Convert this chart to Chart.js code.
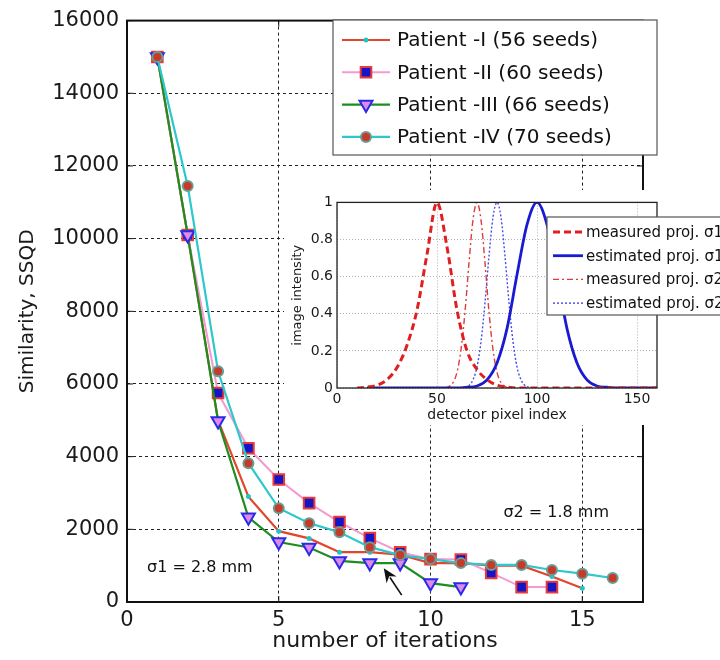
<!DOCTYPE html>
<html>
<head>
<meta charset="utf-8">
<script src="https://cdn.jsdelivr.net/npm/chart.js@4.4.0/dist/chart.umd.min.js"></script>
<style>
body { margin: 0; background: #fff; }
#wrap { position: relative; width: 720px; height: 660px; overflow: hidden; }
#main { position: absolute; left: 0; top: 0; }
#inset { position: absolute; left: 284px; top: 190px; background: #fff; }
</style>
</head>
<body>
<div id="wrap">
  <canvas id="main" width="720" height="660"></canvas>
  <canvas id="inset" width="436" height="235"></canvas>
</div>
<script>
// main plot: similarity vs iterations
const iterations = [1, 2, 3, 4, 5, 6, 7, 8, 9, 10, 11, 12, 13, 14, 15, 16];
const patientI   = [15000, 10100, 5000, 2900, 1950, 1750, 1370, 1370, 1300, 1070, 1070, 1000, 1000, 700, 380];
const patientII  = [15000, 10100, 5750, 4230, 3370, 2720, 2200, 1760, 1370, 1180, 1170, 800, 410, 410];
const patientIII = [15000, 10100, 4980, 2330, 1650, 1500, 1130, 1070, 1070, 520, 410];
const patientIV  = [15000, 11450, 6350, 3820, 2580, 2170, 1920, 1510, 1290, 1180, 1070, 1020, 1020, 880, 780, 660];
const seriesNames = ['Patient -I (56 seeds)', 'Patient -II (60 seeds)', 'Patient -III (66 seeds)', 'Patient -IV (70 seeds)'];
const iterTicks = [0, 5, 10, 15];
const ssqdTicks = [0, 2000, 4000, 6000, 8000, 10000, 12000, 14000, 16000];

// inset: projections
const pixelTicks = [0, 50, 100, 150];
const intensityTicks = [0, 0.2, 0.4, 0.6, 0.8, 1];
const measS1Px  = [10, 15, 20, 25, 30, 35, 40, 45, 50, 55, 60, 65, 70, 75, 80, 85, 90, 160];
const measS1    = [0, 0.005, 0.015, 0.045, 0.11, 0.23, 0.42, 0.72, 1, 0.76, 0.42, 0.2, 0.1, 0.045, 0.015, 0.005, 0, 0];
const estS1Px   = [15, 60, 65, 70, 75, 80, 85, 90, 95, 100, 105, 110, 115, 120, 125, 130, 135, 140, 160];
const estS1     = [0, 0, 0.004, 0.011, 0.044, 0.135, 0.32, 0.61, 0.88, 1, 0.88, 0.61, 0.32, 0.135, 0.044, 0.011, 0.004, 0, 0];
const measS2Px  = [54, 56, 58, 60, 62, 64, 66, 68, 70, 72, 74, 76, 78, 80, 82, 84, 86];
const measS2    = [0, 0.008, 0.029, 0.085, 0.206, 0.41, 0.674, 0.906, 1, 0.906, 0.674, 0.41, 0.206, 0.085, 0.029, 0.008, 0];
const estS2Px   = [62, 64, 66, 68, 70, 72, 74, 76, 78, 80, 82, 84, 86, 88, 90, 92, 94, 96, 98];
const estS2     = [0, 0.004, 0.014, 0.044, 0.114, 0.25, 0.46, 0.71, 0.92, 1, 0.92, 0.71, 0.46, 0.25, 0.114, 0.044, 0.014, 0.004, 0];
const projNames = ['measured proj. σ1', 'estimated proj. σ1', 'measured proj. σ2', 'estimated proj. σ2'];

const FONT = 'DejaVu Sans';

function pts(xs, ys) {
    return ys.map((v, i) => ({x: xs[i], y: v}));
}

function drawMarker(ctx, ds, x, y) {
    const r = ds.pointRadius;
    if (!r) return;
    ctx.save();
    ctx.setLineDash([]);
    ctx.fillStyle = ds.pointBackgroundColor;
    ctx.strokeStyle = ds.pointBorderColor;
    ctx.lineWidth = ds.pointBorderWidth || 0;
    ctx.beginPath();
    if (ds.pointStyle === 'rect') {
        const s = r * Math.SQRT1_2;
        ctx.rect(x - s, y - s, 2 * s, 2 * s);
    } else if (ds.pointStyle === 'triangle') {
        let a = Math.PI;
        ctx.moveTo(x + Math.sin(a) * r, y - Math.cos(a) * r);
        a += Math.PI * 2 / 3;
        ctx.lineTo(x + Math.sin(a) * r, y - Math.cos(a) * r);
        a += Math.PI * 2 / 3;
        ctx.lineTo(x + Math.sin(a) * r, y - Math.cos(a) * r);
        ctx.closePath();
    } else {
        ctx.arc(x, y, r, 0, Math.PI * 2);
    }
    ctx.fill();
    if (ds.pointBorderWidth) ctx.stroke();
    ctx.restore();
}

// legend box drawn at a fixed place, styles taken from datasets
const boxLegend = {
    id: 'boxLegend',
    afterDraw(chart, args, o) {
        const ctx = chart.ctx;
        ctx.save();
        ctx.fillStyle = '#fff';
        ctx.fillRect(o.x, o.y, o.w, o.h);
        ctx.strokeStyle = '#555';
        ctx.lineWidth = 1.2;
        ctx.strokeRect(o.x, o.y, o.w, o.h);
        ctx.font = o.font;
        ctx.textBaseline = 'middle';
        ctx.fillStyle = '#111';
        chart.data.datasets.forEach((ds, i) => {
            const cy = o.y + o.first + o.rowH * i;
            const x0 = o.x + o.lineStart;
            ctx.beginPath();
            ctx.setLineDash(ds.borderDash || []);
            ctx.strokeStyle = ds.borderColor;
            ctx.lineWidth = ds.borderWidth;
            ctx.moveTo(x0, cy);
            ctx.lineTo(x0 + o.lineLen, cy);
            ctx.stroke();
            ctx.setLineDash([]);
            drawMarker(ctx, ds, x0 + o.lineLen / 2, cy);
            ctx.fillStyle = '#111';
            ctx.fillText(ds.label, x0 + o.lineLen + o.gap, cy + 1);
        });
        ctx.restore();
    }
};

// frame, inner tick marks and notes
const framePlugin = {
    id: 'frame',
    afterDatasetsDraw(chart, args, o) {
        const ctx = chart.ctx;
        const a = chart.chartArea;
        const sx = chart.scales.x, sy = chart.scales.y;
        ctx.save();
        ctx.strokeStyle = '#111';
        ctx.lineWidth = o.width;
        ctx.strokeRect(a.left, a.top, a.right - a.left, a.bottom - a.top);
        ctx.lineWidth = 1;
        ctx.beginPath();
        sx.ticks.forEach(t => {
            const px = sx.getPixelForValue(t.value);
            ctx.moveTo(px, a.bottom); ctx.lineTo(px, a.bottom - o.tick);
            ctx.moveTo(px, a.top); ctx.lineTo(px, a.top + o.tick);
        });
        sy.ticks.forEach(t => {
            const py = sy.getPixelForValue(t.value);
            ctx.moveTo(a.left, py); ctx.lineTo(a.left + o.tick, py);
            ctx.moveTo(a.right, py); ctx.lineTo(a.right - o.tick, py);
        });
        ctx.stroke();
        (o.notes || []).forEach(n => {
            ctx.font = n.font;
            ctx.fillStyle = '#111';
            ctx.textBaseline = 'middle';
            ctx.fillText(n.text, sx.getPixelForValue(n.x), sy.getPixelForValue(n.y));
        });
        if (o.arrow) {
            const x1 = sx.getPixelForValue(o.arrow.from[0]), y1 = sy.getPixelForValue(o.arrow.from[1]);
            const x2 = sx.getPixelForValue(o.arrow.to[0]), y2 = sy.getPixelForValue(o.arrow.to[1]);
            const ang = Math.atan2(y2 - y1, x2 - x1);
            const hl = 14, hw = 6;
            ctx.strokeStyle = '#111';
            ctx.lineWidth = 1.6;
            ctx.beginPath();
            ctx.moveTo(x1, y1);
            ctx.lineTo(x2 - Math.cos(ang) * hl * 0.8, y2 - Math.sin(ang) * hl * 0.8);
            ctx.stroke();
            ctx.fillStyle = '#111';
            ctx.beginPath();
            ctx.moveTo(x2, y2);
            ctx.lineTo(x2 - Math.cos(ang) * hl + Math.sin(ang) * hw, y2 - Math.sin(ang) * hl - Math.cos(ang) * hw);
            ctx.lineTo(x2 - Math.cos(ang) * hl * 0.7, y2 - Math.sin(ang) * hl * 0.7);
            ctx.lineTo(x2 - Math.cos(ang) * hl - Math.sin(ang) * hw, y2 - Math.sin(ang) * hl + Math.cos(ang) * hw);
            ctx.closePath();
            ctx.fill();
        }
        ctx.restore();
    }
};

const plain = v => String(v);

const mainChart = new Chart(document.getElementById('main').getContext('2d'), {
    type: 'line',
    data: {
        datasets: [{
            label: seriesNames[0],
            data: pts(iterations, patientI),
            borderColor: '#e2462c', borderWidth: 2.2,
            pointStyle: 'circle', pointRadius: 2.5, pointBorderWidth: 0,
            pointBackgroundColor: '#22c4c4', pointBorderColor: '#22c4c4',
            order: 4
        }, {
            label: seriesNames[1],
            data: pts(iterations, patientII),
            borderColor: '#f59ad0', borderWidth: 2,
            pointStyle: 'rect', pointRadius: 7.5, pointBorderWidth: 2,
            pointBackgroundColor: '#1515c8', pointBorderColor: '#e83a3a',
            order: 3
        }, {
            label: seriesNames[2],
            data: pts(iterations, patientIII),
            borderColor: '#1e8c1e', borderWidth: 2.2,
            pointStyle: 'triangle', pointRotation: 180, pointRadius: 7.5, pointBorderWidth: 2,
            pointBackgroundColor: '#e08ae8', pointBorderColor: '#2a2ae8',
            order: 2
        }, {
            label: seriesNames[3],
            data: pts(iterations, patientIV),
            borderColor: '#2cc8cc', borderWidth: 2.2,
            pointStyle: 'circle', pointRadius: 5, pointBorderWidth: 2,
            pointBackgroundColor: '#c83a28', pointBorderColor: '#6a9c94',
            order: 1
        }]
    },
    options: {
        responsive: false,
        animation: false,
        devicePixelRatio: 1,
        layout: { padding: { left: 0, top: 20, right: 77, bottom: 0 } },
        elements: { line: { tension: 0 } },
        plugins: {
            legend: { display: false },
            tooltip: { enabled: false },
            boxLegend: {
                x: 333, y: 20, w: 324, h: 135, first: 20, rowH: 32.3,
                lineStart: 9, lineLen: 48, gap: 7, font: '20px "' + FONT + '"'
            },
            frame: {
                width: 2, tick: 6,
                notes: [
                    { text: 'σ1 = 2.8 mm', x: 0.66, y: 930, font: '16px "' + FONT + '"' },
                    { text: 'σ2 = 1.8 mm', x: 12.4, y: 2450, font: '16px "' + FONT + '"' }
                ],
                arrow: { from: [9.05, 190], to: [8.46, 930] }
            }
        },
        scales: {
            x: {
                type: 'linear', min: 0, max: 17,
                afterBuildTicks: s => { s.ticks = iterTicks.map(v => ({ value: v })); },
                afterFit: s => { s.height = 58; },
                grid: { color: '#222', lineWidth: 1, drawTicks: false },
                border: { display: false, dash: [3, 3] },
                ticks: { padding: 6, color: '#1a1a1a', font: { family: FONT, size: 21 }, callback: plain },
                title: { display: true, text: 'number of iterations', color: '#1a1a1a',
                         font: { family: FONT, size: 22 }, padding: { top: 0, bottom: 6 } }
            },
            y: {
                min: 0, max: 16000,
                afterBuildTicks: s => { s.ticks = ssqdTicks.map(v => ({ value: v })); },
                afterFit: s => { s.width = 127; },
                grid: { color: '#222', lineWidth: 1, drawTicks: false },
                border: { display: false, dash: [3, 3] },
                ticks: { padding: 8, color: '#1a1a1a', font: { family: FONT, size: 21 }, callback: plain },
                title: { display: true, text: 'Similarity, SSQD', color: '#1a1a1a',
                         font: { family: FONT, size: 20 }, padding: { top: 16, bottom: 0 } }
            }
        }
    },
    plugins: [framePlugin, boxLegend]
});

const insetFrame = {
    id: 'insetFrame',
    afterDatasetsDraw(chart) {
        const ctx = chart.ctx, a = chart.chartArea;
        ctx.save();
        ctx.strokeStyle = '#222';
        ctx.lineWidth = 1.3;
        ctx.strokeRect(a.left, a.top, a.right - a.left, a.bottom - a.top);
        ctx.restore();
    }
};

const insetChart = new Chart(document.getElementById('inset').getContext('2d'), {
    type: 'line',
    data: {
        datasets: [{
            label: projNames[0],
            data: pts(measS1Px, measS1),
            borderColor: '#e02020', borderWidth: 3, borderDash: [7, 4], pointRadius: 0
        }, {
            label: projNames[1],
            data: pts(estS1Px, estS1),
            borderColor: '#1a1ad2', borderWidth: 2.8, pointRadius: 0
        }, {
            label: projNames[2],
            data: pts(measS2Px, measS2),
            borderColor: '#e03a3a', borderWidth: 1.4, borderDash: [6, 3, 2, 3], pointRadius: 0
        }, {
            label: projNames[3],
            data: pts(estS2Px, estS2),
            borderColor: '#4a4ae6', borderWidth: 1.4, borderDash: [2, 2], pointRadius: 0
        }]
    },
    options: {
        responsive: false,
        animation: false,
        devicePixelRatio: 1,
        layout: { padding: { left: 0, top: 5, right: 63, bottom: 0 } },
        elements: { line: { cubicInterpolationMode: 'monotone' } },
        plugins: {
            legend: { display: false },
            tooltip: { enabled: false },
            boxLegend: {
                x: 263, y: 27, w: 220, h: 98, first: 15, rowH: 23.7,
                lineStart: 6, lineLen: 30, gap: 3, font: '15px "' + FONT + '"'
            }
        },
        scales: {
            x: {
                type: 'linear', min: 0, max: 160,
                afterBuildTicks: s => { s.ticks = pixelTicks.map(v => ({ value: v })); },
                afterFit: s => { s.height = 37; },
                grid: { color: '#b0b0b0', lineWidth: 1, drawTicks: false },
                border: { display: false, dash: [1, 2] },
                ticks: { padding: 3, color: '#1a1a1a', font: { family: FONT, size: 14 }, callback: plain },
                title: { display: true, text: 'detector pixel index', color: '#1a1a1a',
                         font: { family: FONT, size: 14 }, padding: { top: 0, bottom: 1 } }
            },
            y: {
                min: 0, max: 1,
                afterBuildTicks: s => { s.ticks = intensityTicks.map(v => ({ value: v })); },
                afterFit: s => { s.width = 53; },
                grid: { color: '#b0b0b0', lineWidth: 1, drawTicks: false },
                border: { display: false, dash: [1, 2] },
                ticks: { padding: 4, color: '#1a1a1a', font: { family: FONT, size: 14 }, callback: plain },
                title: { display: true, text: 'image intensity', color: '#1a1a1a',
                         font: { family: FONT, size: 13 }, padding: { top: 6, bottom: 0 } }
            }
        }
    },
    plugins: [insetFrame, boxLegend]
});
</script>
</body>
</html>
